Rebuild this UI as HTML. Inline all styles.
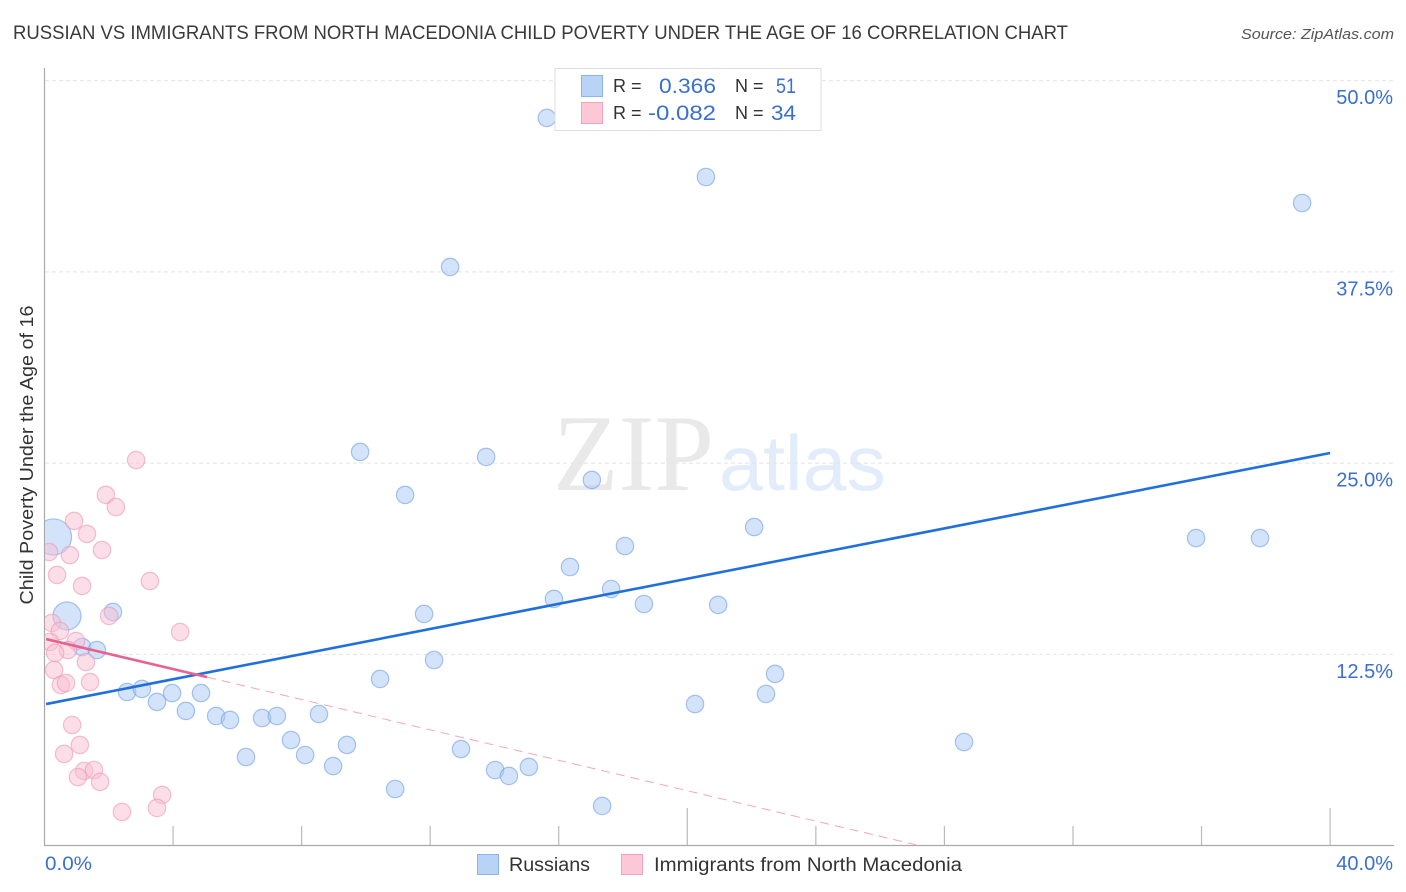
<!DOCTYPE html>
<html lang="en">
<head>
<meta charset="utf-8">
<title>Russian vs Immigrants from North Macedonia Child Poverty Correlation Chart</title>
<style>
html,body{margin:0;padding:0;background:#fff;width:1406px;height:892px;overflow:hidden}
svg{display:block;font-family:"Liberation Sans",sans-serif}
.val{fill:#3a6fd0}
.lab{fill:#333}
</style>
</head>
<body>
<svg id="chart" xmlns="http://www.w3.org/2000/svg" width="1406" height="892" viewBox="0 0 1406 892">
<defs><clipPath id="plot-clip"><rect x="45" y="60" width="1349" height="785"/></clipPath></defs>
<rect x="0" y="0" width="1406" height="892" fill="#ffffff"/>
<text x="13" y="39" font-size="19" fill="#3a3a3a" textLength="1055" lengthAdjust="spacingAndGlyphs">RUSSIAN VS IMMIGRANTS FROM NORTH MACEDONIA CHILD POVERTY UNDER THE AGE OF 16 CORRELATION CHART</text>
<text x="1241" y="39" font-size="15" font-style="italic" fill="#555" textLength="153" lengthAdjust="spacingAndGlyphs">Source: ZipAtlas.com</text>
<g>
<text x="553" y="490" font-family="'Liberation Serif',serif" font-size="109" fill="#e9e9e9" textLength="161" lengthAdjust="spacingAndGlyphs">ZIP</text>
<text x="719" y="490" font-size="78" fill="#e2ecfa" textLength="167" lengthAdjust="spacingAndGlyphs">atlas</text>
</g>
<g id="grid"></g>
<g id="y-labels"></g>
<g id="x-ticks"></g>
<line x1="44.5" y1="68" x2="44.5" y2="846" stroke="#aaaaaa" stroke-width="1.2"/>
<line x1="44" y1="845.5" x2="1394" y2="845.5" stroke="#aaaaaa" stroke-width="1.2"/>
<g id="points" clip-path="url(#plot-clip)"></g>
<g id="trends"></g>
<text transform="translate(33,455) rotate(-90)" text-anchor="middle" font-size="18" fill="#333" textLength="299" lengthAdjust="spacingAndGlyphs">Child Poverty Under the Age of 16</text>
<text class="val" x="45" y="870" font-size="19" textLength="47" lengthAdjust="spacingAndGlyphs">0.0%</text>
<text class="val" x="1393" y="870" font-size="20" text-anchor="end">40.0%</text>
<g>
<rect x="555" y="68.5" width="266" height="62" fill="#fff" stroke="#dddddd"/>
<rect x="581.5" y="75.5" width="21" height="21" fill="#b9d3f7" stroke="#8db3ea"/>
<rect x="581.5" y="102.5" width="21" height="21" fill="#fcc8d8" stroke="#f0a3bd"/>
<text class="lab" x="613" y="92" font-size="18">R =</text>
<text class="val" x="659" y="93" font-size="21" textLength="57" lengthAdjust="spacingAndGlyphs">0.366</text>
<text class="lab" x="735" y="92" font-size="18">N =</text>
<text class="val" x="776" y="93" font-size="21" textLength="20" lengthAdjust="spacingAndGlyphs">51</text>
<text class="lab" x="613" y="119" font-size="18">R =</text>
<text class="val" x="648" y="120" font-size="21" textLength="68" lengthAdjust="spacingAndGlyphs">-0.082</text>
<text class="lab" x="735" y="119" font-size="18">N =</text>
<text class="val" x="771" y="120" font-size="21" textLength="25" lengthAdjust="spacingAndGlyphs">34</text>
</g>
<g>
<rect x="477.5" y="854.5" width="21" height="20" fill="#b9d3f7" stroke="#8db3ea"/>
<text x="509" y="871" font-size="19" fill="#333" textLength="81" lengthAdjust="spacingAndGlyphs">Russians</text>
<rect x="621.5" y="854.5" width="21" height="20" fill="#fcc8d8" stroke="#f0a3bd"/>
<text x="654" y="871" font-size="19" fill="#333" textLength="308" lengthAdjust="spacingAndGlyphs">Immigrants from North Macedonia</text>
</g>
</svg>
<script>
const russiansX = [15.63,20.58,39.13,12.62,9.82,13.74,17.03,11.22,22.08,35.83,37.82,18.06,16.35,17.63,15.85,18.65,20.96,11.81,2.13,1.17,1.63,12.12,22.73,10.44,2.57,3.03,3.97,4.87,3.50,22.45,20.24,4.40,5.34,5.77,6.77,7.23,8.54,7.67,9.41,12.96,28.61,6.27,8.11,8.98,14.02,14.45,15.07,10.91,17.35,0.28,0.70];
const russiansY = [47.56,43.70,42.00,37.82,25.73,25.40,23.90,22.92,20.82,20.10,20.10,19.58,18.21,16.77,16.12,15.79,15.73,15.14,15.27,12.98,12.78,12.13,11.22,10.89,10.04,10.24,9.97,9.97,9.39,9.91,9.25,8.80,8.47,8.21,8.34,8.47,8.60,6.90,6.58,6.31,6.77,5.79,5.92,5.20,4.94,4.55,5.14,3.70,2.59,20.17,15.01];
const russiansWeight = [1,1,1,1,1,1,1,1,1,1,1,1,1,1,1,1,1,1,1,1,1,1,1,1,1,1,1,1,1,1,1,1,1,1,1,1,1,1,1,1,1,1,1,1,1,1,1,1,1,4.3,2.6];
const immigrantsX = [2.85,1.91,2.22,0.92,1.32,1.79,0.79,0.14,0.39,1.17,3.28,2.01,4.22,0.23,0.48,0.98,0.17,0.73,0.33,1.29,0.30,0.51,0.67,1.42,0.86,1.10,0.61,1.23,1.54,1.04,1.73,2.41,3.66,3.50];
const immigrantsY = [25.20,22.92,22.13,21.22,20.37,19.32,18.99,19.19,17.69,16.97,17.29,15.01,13.96,14.55,14.03,13.37,13.31,12.78,12.59,12.00,11.48,10.50,10.63,10.69,7.88,6.58,5.99,4.88,4.94,4.48,4.16,2.20,3.31,2.46];
const yTicks = [50,37.5,25,12.5];
const yTickLabels = ["50.0%","37.5%","25.0%","12.5%"];
const xTicks = [4,8,12,16,20,24,28,32,36,40];
const russiansTrendX = [0.05,40];
const russiansTrendY = [9.25,25.66];
const immigrantsTrendX = [0.05,27.14];
const immigrantsTrendY = [13.5,0.04];
const immigrantsSolidEndX = [5.06];

const NS = "http://www.w3.org/2000/svg";
const xScale = v => 44.5 + v * 32.14;
const yScale = v => 845.6 - v * 15.3;
const rScale = w => 8.7 * Math.sqrt(w);
function make(tag, attrs, parent) {
  const el = document.createElementNS(NS, tag);
  for (const k in attrs) el.setAttribute(k, attrs[k]);
  parent.appendChild(el);
  return el;
}
const grid = document.getElementById('grid');
const yLabels = document.getElementById('y-labels');
yTicks.forEach((t, i) => {
  const g = make('line', {x1: 45, x2: 1393, y1: yScale(t), y2: yScale(t), stroke: '#e4e4e4', 'stroke-width': 1, 'stroke-dasharray': '4 3'}, grid);
  
  
  const l = make('text', {x: 1393, y: yScale(t) + 23.5, 'text-anchor': 'end', 'font-size': 20, class: 'val'}, yLabels);
  l.textContent = yTickLabels[i];
  
  
});
const xTickGroup = document.getElementById('x-ticks');
xTicks.forEach(t => {
  const len = t % 20 === 0 ? 37 : 19;
  const k = make('line', {x1: xScale(t), x2: xScale(t), y1: 845 - len, y2: 845, stroke: '#bbbbbb', 'stroke-width': 1.2}, xTickGroup);
  
  
});
const points = document.getElementById('points');
russiansX.forEach((x, i) => {
  const c = make('circle', {cx: xScale(x), cy: yScale(russiansY[i]), r: rScale(russiansWeight[i]), fill: 'rgba(168,200,245,0.5)', stroke: 'rgba(120,165,230,0.65)', 'stroke-width': 1.2}, points);
  
  
});
immigrantsX.forEach((x, i) => {
  const c = make('circle', {cx: xScale(x), cy: yScale(immigrantsY[i]), r: 8.7, fill: 'rgba(248,190,210,0.5)', stroke: 'rgba(236,150,180,0.6)', 'stroke-width': 1.2}, points);
  
  
});
const trends = document.getElementById('trends');
const blue = make('line', {x1: xScale(russiansTrendX[0]), y1: yScale(russiansTrendY[0]), x2: xScale(russiansTrendX[1]), y2: yScale(russiansTrendY[1]), stroke: '#2070dc', 'stroke-width': 2.6}, trends);


const slope = (immigrantsTrendY[1] - immigrantsTrendY[0]) / (immigrantsTrendX[1] - immigrantsTrendX[0]);
const solidEndY = immigrantsTrendY[0] + slope * (immigrantsSolidEndX[0] - immigrantsTrendX[0]);
const dash = make('line', {x1: xScale(immigrantsSolidEndX[0]), y1: yScale(solidEndY), x2: xScale(immigrantsTrendX[1]), y2: yScale(immigrantsTrendY[1]), stroke: '#f2a6c0', 'stroke-width': 1, 'stroke-dasharray': '9 6'}, trends);


const pink = make('line', {x1: xScale(immigrantsTrendX[0]), y1: yScale(immigrantsTrendY[0]), x2: xScale(immigrantsSolidEndX[0]), y2: yScale(solidEndY), stroke: '#e8628f', 'stroke-width': 2.6}, trends);


</script>
</body>
</html>
